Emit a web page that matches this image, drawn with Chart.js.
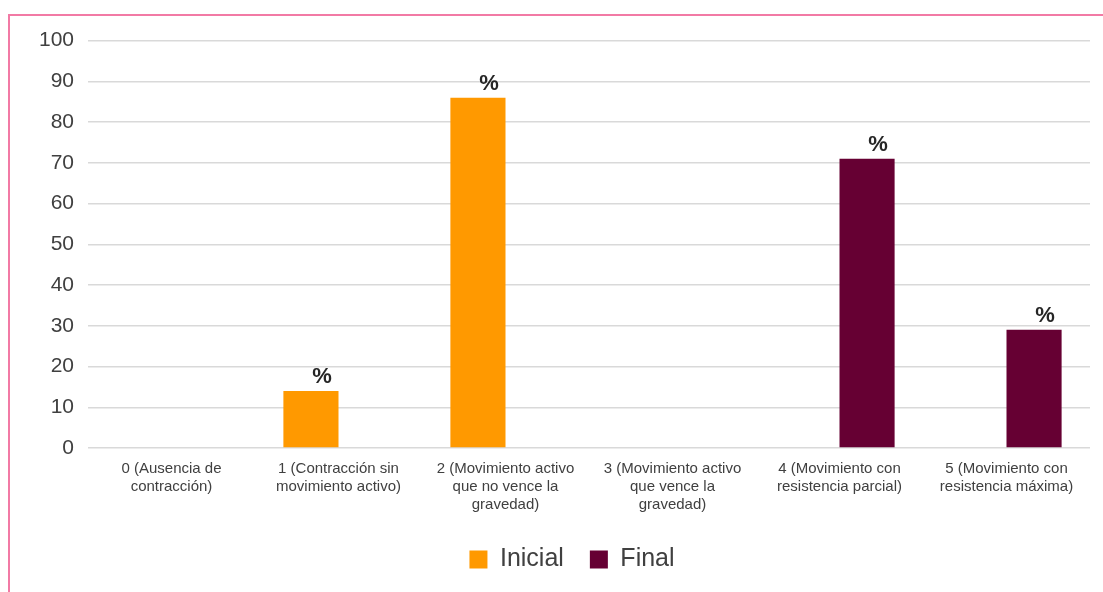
<!DOCTYPE html>
<html>
<head>
<meta charset="utf-8">
<script src="https://cdn.jsdelivr.net/npm/chart.js@4.4.1/dist/chart.umd.min.js"></script>
<style>
  html, body { margin: 0; padding: 0; background: #fff; overflow: hidden; }
  #frame {
    position: absolute; left: 8px; top: 14px;
    width: 1095px; height: 578px;
    border-top: 2px solid #f27aa5; border-left: 2px solid #f27aa5;
    box-sizing: border-box;
  }
  #wrap { position: absolute; left: 0; top: -2px; width: 1093px; height: 592px; }
</style>
</head>
<body>
<div id="frame"><div id="wrap"><canvas id="chart"></canvas></div></div>
<script>
/* Escala de Daniels — fuerza muscular inicial vs final */

const CATEGORIES = [
  ['0 (Ausencia de', 'contracción)'],
  ['1 (Contracción sin', 'movimiento activo)'],
  ['2 (Movimiento activo', 'que no vence la', 'gravedad)'],
  ['3 (Movimiento activo', 'que vence la', 'gravedad)'],
  ['4 (Movimiento con', 'resistencia parcial)'],
  ['5 (Movimiento con', 'resistencia máxima)'],
];
const INICIAL = [0, 14, 86, 0, 0, 0];
const FINAL   = [0, 0, 0, 0, 71, 29];
const Y_MIN = 0, Y_MAX = 100, Y_STEP = 10;

const ORANGE = '#ff9900';
const MAROON = '#660033';
const TEXT = '#404040';
const GRID = '#d9d9d9';

Chart.defaults.font.family = "'Liberation Sans', Arial, sans-serif";
Chart.defaults.color = TEXT;

// draws a "%" above each non-zero bar
const percentLabels = {
  id: 'percentLabels',
  afterDatasetsDraw(chart) {
    const ctx = chart.ctx;
    ctx.save();
    ctx.font = "bold 22px 'Liberation Sans', Arial, sans-serif";
    ctx.fillStyle = '#262626';
    ctx.textAlign = 'center';
    ctx.textBaseline = 'bottom';
    chart.data.datasets.forEach((ds, i) => {
      chart.getDatasetMeta(i).data.forEach((bar, j) => {
        if (ds.data[j] > 0) ctx.fillText('%', bar.x + 11, bar.y - 3);
      });
    });
    ctx.restore();
  }
};

// legend in the original sits centred under the plot area, not the canvas
const legendShift = {
  id: 'legendShift',
  afterLayout(chart) {
    if (chart.legend) chart.legend.left += 44;
  }
};

new Chart(document.getElementById('chart'), {
  type: 'bar',
  data: {
    labels: CATEGORIES,
    datasets: [
      { label: 'Inicial', data: INICIAL, backgroundColor: ORANGE, borderWidth: 0 },
      { label: 'Final',   data: FINAL,   backgroundColor: MAROON, borderWidth: 0 },
    ]
  },
  options: {
    responsive: true,
    maintainAspectRatio: false,
    animation: false,
    layout: { padding: { top: 21, right: 13, bottom: 24, left: 0 } },
    datasets: { bar: { categoryPercentage: 0.66, barPercentage: 1.0 } },
    plugins: {
      legend: {
        position: 'bottom',
        labels: {
          color: TEXT,
          font: { size: 25 },
          boxWidth: 18,
          boxHeight: 18,
          padding: 26,
        }
      },
      tooltip: { enabled: false },
    },
    scales: {
      x: {
        grid: { display: false },
        border: { display: false },
        ticks: {
          color: TEXT,
          font: { size: 15, lineHeight: 1.2 },
          padding: 4,
          maxRotation: 0,
          autoSkip: false,
        },
        afterFit: s => { s.height = 73; }
      },
      y: {
        min: Y_MIN,
        max: Y_MAX,
        grid: { color: GRID, lineWidth: 1.5, drawTicks: false },
        border: { display: false },
        ticks: {
          stepSize: Y_STEP,
          color: TEXT,
          font: { size: 21 },
          padding: 14,
        },
        afterFit: s => { s.width = 78; }
      }
    }
  },
  plugins: [percentLabels, legendShift]
});
</script>
</body>
</html>
